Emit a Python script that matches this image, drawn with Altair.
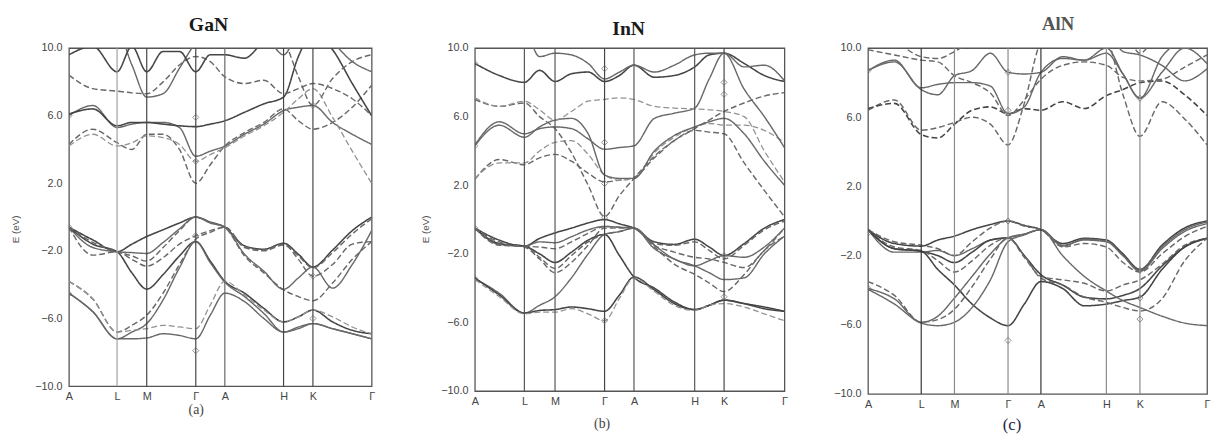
import altair as alt
import pandas as pd

SYM_NAMES = ["A", "L", "M", "Γ", "A", "H", "K", "Γ"]
Y_TICKS = [-10, -6, -2, 2, 6, 10]

# ---------------- GaN ----------------
GAN_K = [0, 0.079, 0.159, 0.208, 0.257, 0.311, 0.365, 0.419, 0.467, 0.515,
         0.580, 0.644, 0.709, 0.758, 0.806, 0.871, 0.936, 1.0]
GAN_SYM_K = [0, 0.159, 0.257, 0.419, 0.515, 0.709, 0.806, 1.0]
GAN_SYM_COLORS = ["#555", "#a0a0a0", "#444", "#444", "#666", "#444", "#444", "#555"]
GAN_STYLE = ["solid", "solid", "dashed", "solid", "dashed", "solid", "solid", "dashed", "dashed",
             "dashed", "solid", "dashed", "solid", "solid", "dashed", "solid", "solid", "dashed"]
GAN_TONE = ["dark", "mid", "mid", "dark", "mid", "mid", "mid", "light", "mid",
            "mid", "mid", "light", "dark", "mid", "mid", "dark", "mid", "mid"]
GAN_BANDS = [
    [-0.6, -1.35, -2.05, -1.6, -1.15, -0.75, -0.35, 0.0, -0.3, -0.6, -1.7, -1.9, -1.55, -2.2, -2.95, -1.95, -0.8, 0.0],
    [-0.6, -1.8, -2.05, -2.1, -2.15, -1.5, -0.7, 0.0, -0.35, -0.6, -2.2, -3.2, -4.27, -3.6, -2.95, -4.2, -2.8, -0.8],
    [-0.6, -2.25, -2.05, -2.5, -2.9, -2.4, -1.6, -1.1, -0.8, -0.6, -1.8, -2.0, -1.65, -2.3, -3.0, -2.1, -1.0, -0.1],
    [-0.6, -1.6, -2.05, -3.3, -4.26, -3.4, -2.3, -1.45, -2.6, -3.8, -4.5, -5.4, -6.2, -5.9, -5.5, -6.2, -6.7, -6.9],
    [-3.8, -4.85, -6.8, -6.4, -5.8, -4.5, -2.8, -1.3, -0.9, -0.6, -1.75, -1.95, -1.6, -2.5, -3.5, -2.8, -1.6, -1.45],
    [-4.5, -5.6, -7.2, -6.8, -6.3, -4.9, -3.0, -1.45, -2.7, -3.85, -4.7, -5.7, -6.8, -6.6, -6.3, -6.6, -6.9, -7.2],
    [-4.5, -5.6, -7.2, -7.2, -7.15, -6.9, -7.0, -7.2, -5.8, -4.5, -5.0, -6.0, -6.8, -6.5, -6.3, -6.6, -6.9, -7.2],
    [-3.8, -4.85, -6.8, -6.7, -6.6, -6.4, -6.5, -6.6, -5.2, -3.8, -4.6, -5.5, -6.2, -5.9, -5.5, -5.9, -6.5, -6.9],
    [-0.6, -1.5, -2.05, -2.3, -2.6, -1.8, -0.8, 0.0, -0.3, -0.6, -2.3, -3.3, -4.3, -4.7, -4.95, -3.9, -2.5, -1.45],
    [4.3, 5.2, 4.4, 4.0, 4.9, 4.9, 4.0, 2.0, 3.1, 4.2, 5.0, 5.6, 6.4, 5.7, 5.2, 5.6, 6.5, 7.8],
    [6.0, 6.6, 5.3, 5.5, 5.6, 5.6, 5.3, 3.6, 3.9, 4.2, 4.9, 5.5, 6.3, 6.5, 6.6, 5.6, 4.9, 4.3],
    [4.2, 4.9, 4.2, 4.4, 4.8, 4.7, 4.3, 3.3, 3.7, 4.1, 4.8, 5.4, 6.2, 7.0, 7.6, 5.9, 3.9, 2.0],
    [6.1, 6.4, 5.4, 5.6, 5.6, 5.5, 5.4, 5.35, 5.5, 5.7, 6.2, 6.7, 7.1, 9.5, 11, 9.9, 7.9, 6.0],
    [11, 11, 11, 9.0, 7.1, 7.3, 8.8, 10.3, 11, 11, 11, 11, 11, 11, 11, 11, 11, 11],
    [8.4, 7.6, 7.45, 7.35, 7.3, 8.0, 9.0, 9.5, 9.2, 8.3, 7.9, 8.1, 7.3, 7.6, 7.9, 7.6, 7.0, 6.0],
    [9.6, 10.1, 8.6, 10.1, 8.6, 9.8, 9.8, 8.6, 9.6, 9.6, 9.4, 10.4, 11, 11, 11, 11, 11, 11],
    [11, 11, 11, 11, 11, 11, 11, 11, 11, 11, 11, 10.8, 9.6, 10.8, 11, 10.3, 9.2, 8.6],
    [11, 11, 11, 11, 11, 11, 11, 11, 11, 11, 11, 11, 10.4, 8.3, 6.6, 8.2, 9.2, 9.6],
]
GAN_MARK_K = [0, 0, 0, 0.419, 0.419, 0.419, 0.419, 0.806, 0.806, 0.806]
GAN_MARK_E = [6.0, -0.6, -4.55, 5.9, 3.3, -1.1, -7.9, 6.6, -3.5, -6.0]

# ---------------- InN ----------------
INN_K = [0, 0.079, 0.160, 0.209, 0.259, 0.312, 0.366, 0.419, 0.467, 0.514,
         0.580, 0.644, 0.710, 0.757, 0.805, 0.870, 0.935, 1.0]
INN_SYM_K = [0, 0.160, 0.259, 0.419, 0.514, 0.710, 0.805, 1.0]
INN_SYM_COLORS = ["#555", "#555", "#555", "#444", "#555", "#555", "#444", "#555"]
INN_STYLE = ["solid", "solid", "dashed", "solid", "dashed", "solid", "solid", "dashed", "dashed",
             "dashed", "dashed", "solid", "solid", "dashed", "dashed", "solid", "solid"]
INN_TONE = ["dark", "mid", "mid", "dark", "mid", "mid", "dark", "light", "mid",
            "mid", "light", "mid", "mid", "mid", "light", "dark", "mid"]
INN_BANDS = [
    [-0.5, -1.2, -1.55, -1.1, -0.78, -0.5, -0.2, 0.0, -0.25, -0.5, -1.3, -1.45, -1.15, -1.6, -2.1, -1.4, -0.5, 0.0],
    [-0.5, -1.45, -1.55, -1.3, -1.35, -1.0, -0.6, -0.4, -0.45, -0.5, -1.7, -2.3, -2.7, -2.4, -2.1, -2.2, -1.6, -0.5],
    [-0.5, -1.3, -1.55, -1.6, -1.7, -1.3, -0.8, -0.4, -0.45, -0.5, -1.5, -1.9, -2.2, -2.3, -2.5, -2.8, -1.8, -0.5],
    [-0.5, -1.4, -1.55, -2.0, -2.5, -1.9, -1.2, -0.87, -2.1, -3.35, -4.0, -4.8, -5.25, -5.0, -4.7, -4.9, -5.1, -5.35],
    [-0.5, -1.5, -1.55, -2.2, -2.85, -2.1, -1.3, -0.87, -0.7, -0.5, -1.6, -2.6, -3.2, -3.7, -4.2, -3.2, -1.8, -0.97],
    [-3.45, -4.3, -5.45, -5.0, -4.5, -3.4, -2.0, -0.87, -0.7, -0.5, -1.5, -2.3, -2.7, -3.1, -3.5, -3.4, -2.0, -0.97],
    [-3.4, -4.4, -5.45, -5.3, -5.25, -5.1, -5.2, -5.35, -4.4, -3.35, -4.1, -4.9, -5.25, -5.0, -4.7, -4.9, -5.2, -5.35],
    [-3.5, -4.5, -5.5, -5.4, -5.4, -5.2, -5.5, -5.9, -4.6, -3.4, -4.2, -5.0, -5.3, -5.0, -4.9, -5.1, -5.5, -5.9],
    [-0.5, -1.4, -1.6, -2.3, -3.1, -2.5, -1.5, -0.5, -0.5, -0.5, -1.4, -1.5, -1.3, -1.8, -2.3, -1.5, -0.6, -0.1],
    [2.35, 3.5, 3.2, 3.6, 3.8, 3.4, 2.7, 2.2, 2.3, 2.45, 3.6, 4.6, 5.2, 5.1, 5.0, 3.3, 1.7, 0.17],
    [2.4, 3.3, 3.3, 4.0, 4.5, 4.6, 3.8, 2.6, 2.3, 2.4, 3.9, 4.8, 5.4, 5.6, 5.5, 5.5, 5.2, 4.5],
    [4.35, 5.7, 5.0, 5.3, 5.4, 5.3, 4.7, 4.1, 4.2, 4.3, 5.9, 6.2, 6.5, 8.2, 9.7, 7.6, 6.0, 4.2],
    [4.3, 5.5, 4.8, 5.4, 5.8, 5.9, 5.0, 2.6, 2.4, 2.4, 4.0, 4.9, 5.4, 5.7, 5.9, 5.0, 3.4, 2.0],
    [7.0, 6.6, 6.8, 6.0, 5.3, 3.9, 2.0, 0.17, 1.4, 2.4, 3.7, 4.6, 5.3, 5.8, 6.3, 6.8, 7.2, 7.4],
    [7.1, 6.6, 6.9, 6.4, 5.8, 6.3, 6.9, 7.0, 7.1, 7.0, 6.6, 6.5, 6.45, 6.4, 6.3, 6.0, 4.0, 2.2],
    [9.1, 8.4, 8.0, 8.7, 8.05, 8.5, 8.6, 8.05, 8.4, 9.0, 8.3, 8.4, 8.9, 9.6, 9.7, 9.1, 8.4, 8.05],
    [11, 11, 11, 9.5, 9.7, 9.6, 9.1, 8.2, 8.6, 9.0, 8.6, 9.0, 9.6, 9.7, 9.7, 8.9, 9.0, 8.1],
]
INN_MARK_K = [0, 0, 0, 0, 0.419, 0.419, 0.419, 0.419, 0.419, 0.805, 0.805, 0.805, 0.805]
INN_MARK_E = [9.1, 4.3, -0.5, -3.45, 8.8, 4.5, 2.1, 0.1, -5.9, 8.0, 7.3, -2.1, -4.5]

# ---------------- AlN ----------------
ALN_K = [0, 0.078, 0.157, 0.206, 0.255, 0.307, 0.361, 0.413, 0.461, 0.510,
         0.574, 0.638, 0.703, 0.752, 0.802, 0.867, 0.934, 1.0]
ALN_SYM_K = [0, 0.157, 0.255, 0.413, 0.510, 0.703, 0.802, 1.0]
ALN_SYM_COLORS = ["#444", "#333", "#8a8a8a", "#8a8a8a", "#333", "#8a8a8a", "#8a8a8a", "#555"]
ALN_STYLE = ["solid", "solid", "dashed", "solid", "dashed", "solid", "solid", "dashed", "solid",
             "dashed", "dashed", "solid", "solid", "solid", "dashed", "dashed"]
ALN_TONE = ["dark", "mid", "mid", "dark", "mid", "dark", "mid", "mid", "mid",
            "mid", "dark", "mid", "mid", "mid", "mid", "mid"]
ALN_BANDS = [
    [-0.5, -1.3, -1.45, -1.1, -0.87, -0.5, -0.2, 0.0, -0.25, -0.5, -1.3, -1.0, -1.1, -1.9, -2.8, -1.4, -0.4, 0.0],
    [-0.5, -1.8, -1.8, -1.7, -2.0, -1.6, -1.1, -0.97, -0.75, -0.5, -1.4, -1.1, -1.2, -2.0, -2.9, -1.6, -0.6, -0.15],
    [-0.5, -1.2, -1.4, -1.6, -2.0, -1.2, -0.4, 0.0, -0.3, -0.5, -1.5, -1.3, -1.5, -2.4, -2.95, -1.9, -0.9, -0.3],
    [-0.5, -1.6, -1.75, -2.0, -2.4, -1.8, -1.1, -0.97, -2.0, -3.1, -3.7, -4.4, -4.5, -4.3, -3.9, -2.6, -1.5, -1.0],
    [-0.5, -1.5, -1.7, -2.3, -2.95, -2.3, -1.4, -0.97, -2.1, -3.2, -3.4, -3.6, -4.05, -3.7, -3.4, -2.5, -1.4, -1.0],
    [-0.5, -1.6, -1.75, -2.8, -3.7, -4.8, -5.6, -6.05, -4.8, -3.5, -3.9, -4.9, -4.8, -4.6, -4.4, -2.8, -1.5, -1.0],
    [-3.9, -4.5, -5.85, -5.5, -4.45, -3.2, -1.9, -0.97, -0.75, -0.5, -2.0, -3.2, -4.05, -4.6, -5.0, -5.5, -5.9, -6.05],
    [-3.5, -4.3, -5.85, -5.7, -5.1, -3.8, -2.2, -0.97, -2.0, -3.3, -3.7, -4.4, -4.7, -5.0, -5.2, -4.5, -2.3, -1.0],
    [-3.95, -4.8, -5.9, -6.05, -5.85, -5.0, -3.4, -1.2, -0.8, -0.5, -1.45, -1.05, -1.15, -2.0, -2.85, -1.5, -0.5, -0.05],
    [6.4, 7.0, 5.25, 5.4, 5.7, 6.0, 5.6, 4.4, 6.8, 10.3, 11, 11, 10.5, 7.3, 4.9, 6.9, 5.9, 4.4],
    [6.5, 6.8, 5.0, 4.8, 5.6, 6.4, 6.6, 6.2, 6.5, 6.4, 6.9, 6.5, 7.25, 7.6, 8.0, 8.1, 7.3, 6.1],
    [8.7, 9.3, 7.7, 7.9, 8.0, 8.0, 7.8, 6.2, 6.6, 8.6, 9.4, 9.3, 9.7, 8.5, 7.1, 8.6, 10.0, 9.1],
    [8.7, 9.2, 7.6, 7.3, 8.4, 8.7, 9.7, 8.6, 8.5, 8.6, 9.5, 9.3, 10.0, 8.5, 7.1, 9.5, 10.5, 11],
    [11, 11, 11, 11, 11, 11, 11, 11, 11, 11, 11, 11, 11, 9.8, 9.6, 9.0, 8.1, 8.8],
    [9.9, 9.6, 9.3, 9.2, 8.4, 8.0, 7.4, 6.1, 7.0, 8.2, 9.0, 9.2, 9.0, 8.3, 8.1, 8.2, 8.9, 9.6],
    [11, 10.4, 9.5, 9.4, 9.8, 10.4, 11, 11, 11, 11, 11, 11, 11, 11, 9.7, 11, 11, 11],
]
ALN_MARK_K = [0, 0, 0, 0.413, 0.413, 0.413, 0.413, 0.802, 0.802, 0.802, 0.802]
ALN_MARK_E = [8.7, -0.7, -3.9, 8.6, 6.4, 0.0, -6.9, 7.1, -2.85, -4.45, -5.67]


def label_expr(sym_k):
    parts = []
    for k, n in zip(sym_k, SYM_NAMES):
        parts.append(f"datum.value == {k} ? '{n}' : ")
    return "".join(parts) + "''"


def panel(K, styles, tones, bands, sym_k, sym_colors, mk, me, width, height,
          title, title_font, title_size, title_color, title_dx, title_offset,
          sub, sub_size, sub_color, sub_x, sub_y, ytitle, ytitle_x, ytitle_y):
    rows = []
    for b, vals in enumerate(bands):
        for k, e in zip(K, vals):
            rows.append({"band": b, "k": k, "E": e, "style": styles[b], "tone": tones[b]})
    df = pd.DataFrame(rows)

    x_enc = alt.X(
        "k:Q",
        scale=alt.Scale(domain=[0, 1], nice=False, zero=False),
        axis=alt.Axis(
            values=sym_k, labelExpr=label_expr(sym_k), grid=False, ticks=False,
            domain=False, labelFont="Liberation Sans", labelFontSize=11,
            labelColor="#444", labelPadding=5, labelFlush=False,
            title=sub, titleFont="Liberation Serif", titleFontSize=sub_size,
            titleFontWeight="normal", titleColor=sub_color,
            titleX=sub_x, titleY=sub_y, titleAlign="center", titleBaseline="middle",
        ),
    )
    yaxis_kw = dict(
        values=Y_TICKS, format=".1f", grid=False, ticks=False, domain=False,
        labelFont="Liberation Sans", labelFontSize=11, labelColor="#444", labelPadding=7,
    )
    if ytitle:
        yaxis_kw.update(title=ytitle, titleFont="Liberation Sans", titleFontSize=10,
                        titleFontWeight="normal", titleColor="#555555",
                        titleX=ytitle_x, titleY=ytitle_y, titleAlign="center",
                        titleBaseline="middle", titleAngle=270)
    else:
        yaxis_kw.update(title=None)
    y_enc = alt.Y("E:Q", scale=alt.Scale(domain=[-10, 10], nice=False), axis=alt.Axis(**yaxis_kw))

    lines = alt.Chart(df).mark_line(interpolate="monotone", clip=True).encode(
        x=x_enc, y=y_enc, detail="band:N",
        strokeDash=alt.StrokeDash("style:N", scale=alt.Scale(domain=["solid", "dashed"], range=[[1, 0], [6, 3]]), legend=None),
        color=alt.Color("tone:N", scale=alt.Scale(domain=["dark", "mid", "light"], range=["#454545", "#686868", "#929292"]), legend=None),
        strokeWidth=alt.StrokeWidth("tone:N", scale=alt.Scale(domain=["dark", "mid", "light"], range=[1.6, 1.3, 1.2]), legend=None),
    )
    rdf = pd.DataFrame({"k": sym_k[1:-1], "c": sym_colors[1:-1]})
    rules = alt.Chart(rdf).mark_rule(strokeWidth=1.2).encode(
        x=x_enc, color=alt.Color("c:N", scale=None)
    )
    mdf = pd.DataFrame({"k": mk, "E": me})
    marks = alt.Chart(mdf).mark_point(shape="diamond", filled=False, size=38, strokeWidth=1.0, color="#666", clip=True).encode(
        x=x_enc, y=y_enc
    )
    return alt.layer(lines, rules, marks).properties(
        width=width, height=height,
        title=alt.TitleParams(text=title, font=title_font, fontSize=title_size, fontWeight="bold",
                              color=title_color, frame="group", anchor="middle",
                              dx=title_dx, offset=title_offset),
    )


p1 = panel(GAN_K, GAN_STYLE, GAN_TONE, GAN_BANDS, GAN_SYM_K, GAN_SYM_COLORS, GAN_MARK_K, GAN_MARK_E,
           308, 344, "GaN", "Liberation Serif", 20, "#1a1a1a", -12, 7,
           "(a)", 14, "#444", 129, 24, "E (eV)", -54, 184)
p2 = panel(INN_K, INN_STYLE, INN_TONE, INN_BANDS, INN_SYM_K, INN_SYM_COLORS, INN_MARK_K, INN_MARK_E,
           315, 349, "InN", "Liberation Serif", 20, "#1a1a1a", -1, 3,
           "(b)", 14, "#444", 129, 33, "E (eV)", -50, 184)
p3 = panel(ALN_K, ALN_STYLE, ALN_TONE, ALN_BANDS, ALN_SYM_K, ALN_SYM_COLORS, ALN_MARK_K, ALN_MARK_E,
           345, 352, "AlN", "Liberation Serif", 19, "#555", 21, 8,
           "(c)", 17, "#1c2346", 146, 31, None, 0, 0)

chart = alt.hconcat(p1, p2, p3, spacing=45).properties(
    padding={"left": 2, "top": 3, "right": 0, "bottom": 0}
).configure_view(stroke="#555", strokeWidth=1.3)

chart.save("out.html", embed_options={"renderer": "svg", "actions": False})
